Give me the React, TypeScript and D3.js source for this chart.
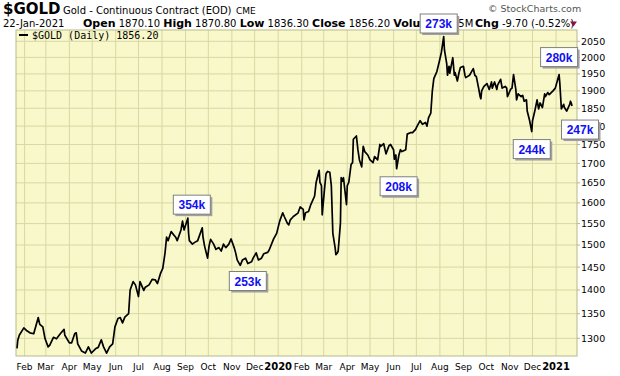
import React from 'react';
import * as d3 from 'd3';

// ---- data ----
const priceDates: string[] = [
  '2019-01-22','2019-01-23','2019-01-25','2019-01-31','2019-02-04','2019-02-08','2019-02-13','2019-02-19','2019-02-21','2019-02-25',
  '2019-02-28','2019-03-04','2019-03-06','2019-03-11','2019-03-15','2019-03-20','2019-03-25','2019-03-26','2019-04-01','2019-04-04',
  '2019-04-08','2019-04-10','2019-04-12','2019-04-17','2019-04-22','2019-04-26','2019-04-30','2019-05-06','2019-05-09','2019-05-13',
  '2019-05-16','2019-05-20','2019-05-24','2019-05-28','2019-05-31','2019-06-04','2019-06-07','2019-06-10','2019-06-13','2019-06-18',
  '2019-06-20','2019-06-24','2019-06-27','2019-07-01','2019-07-03','2019-07-08','2019-07-10','2019-07-15','2019-07-19','2019-07-23',
  '2019-07-26','2019-07-30','2019-08-02','2019-08-05','2019-08-07','2019-08-09','2019-08-13','2019-08-19','2019-08-21','2019-08-26',
  '2019-08-28','2019-08-30','2019-09-04','2019-09-05','2019-09-06','2019-09-10','2019-09-13','2019-09-17','2019-09-23','2019-09-24',
  '2019-09-26','2019-09-30','2019-10-02','2019-10-04','2019-10-08','2019-10-11','2019-10-15','2019-10-18','2019-10-21','2019-10-24',
  '2019-10-28','2019-10-31','2019-11-04','2019-11-06','2019-11-08','2019-11-12','2019-11-15','2019-11-19','2019-11-22','2019-11-27',
  '2019-11-29','2019-12-03','2019-12-06','2019-12-10','2019-12-13','2019-12-18','2019-12-20','2019-12-26','2019-12-30','2020-01-03',
  '2020-01-07','2020-01-09','2020-01-13','2020-01-15','2020-01-17','2020-01-21','2020-01-27','2020-01-30','2020-02-03','2020-02-04',
  '2020-02-06','2020-02-10','2020-02-13','2020-02-18','2020-02-20','2020-02-24','2020-02-25','2020-02-27','2020-02-28','2020-03-02',
  '2020-03-04','2020-03-06','2020-03-09','2020-03-11','2020-03-13','2020-03-16','2020-03-17','2020-03-19','2020-03-20','2020-03-23',
  '2020-03-24','2020-03-26','2020-03-27','2020-03-31','2020-04-01','2020-04-03','2020-04-06','2020-04-08','2020-04-09','2020-04-13',
  '2020-04-15','2020-04-17','2020-04-20','2020-04-22','2020-04-24','2020-04-28','2020-05-01','2020-05-05','2020-05-07','2020-05-11',
  '2020-05-14','2020-05-15','2020-05-19','2020-05-22','2020-05-26','2020-05-28','2020-06-01','2020-06-02','2020-06-04','2020-06-05',
  '2020-06-08','2020-06-10','2020-06-12','2020-06-17','2020-06-19','2020-06-23','2020-06-26','2020-06-30','2020-07-02','2020-07-06',
  '2020-07-09','2020-07-13','2020-07-15','2020-07-17','2020-07-20','2020-07-22','2020-07-24','2020-07-28','2020-07-31','2020-08-03',
  '2020-08-06','2020-08-07','2020-08-10','2020-08-11','2020-08-13','2020-08-14','2020-08-18','2020-08-20','2020-08-21','2020-08-24',
  '2020-08-26','2020-08-28','2020-09-01','2020-09-03','2020-09-04','2020-09-09','2020-09-11','2020-09-14','2020-09-16','2020-09-18',
  '2020-09-21','2020-09-23','2020-09-24','2020-09-25','2020-09-28','2020-10-02','2020-10-05','2020-10-08','2020-10-09','2020-10-12',
  '2020-10-15','2020-10-16','2020-10-20','2020-10-22','2020-10-26','2020-10-28','2020-10-29','2020-11-02','2020-11-04','2020-11-06',
  '2020-11-09','2020-11-10','2020-11-12','2020-11-16','2020-11-18','2020-11-20','2020-11-23','2020-11-24','2020-11-27','2020-11-30',
  '2020-12-01','2020-12-04','2020-12-07','2020-12-09','2020-12-11','2020-12-14','2020-12-17','2020-12-18','2020-12-21','2020-12-23',
  '2020-12-28','2020-12-31','2021-01-05','2021-01-06','2021-01-08','2021-01-11','2021-01-12','2021-01-15','2021-01-19','2021-01-20',
  '2021-01-21','2021-01-22'
];

const priceCloses: number[] = [
  1280,1296,1306,1321,1315,1311,1309,1342,1328,1323,
  1299,1283,1286,1302,1299,1309,1318,1306,1291,1291,
  1309,1311,1289,1275,1271,1283,1271,1280,1282,1297,
  1283,1271,1283,1289,1323,1340,1342,1331,1343,1350,
  1400,1418,1411,1386,1418,1399,1406,1411,1423,1422,
  1414,1436,1447,1482,1518,1510,1531,1518,1510,1535,
  1556,1535,1563,1527,1510,1502,1506,1510,1540,1518,
  1498,1470,1498,1513,1502,1490,1494,1486,1502,1494,
  1502,1514,1494,1482,1466,1454,1466,1470,1458,1462,
  1470,1482,1466,1470,1480,1483,1488,1514,1527,1556,
  1576,1567,1551,1547,1559,1567,1575,1590,1584,1559,
  1576,1579,1596,1617,1651,1682,1651,1643,1571,1634,
  1673,1679,1677,1643,1527,1494,1478,1482,1486,1551,
  1663,1654,1663,1596,1643,1651,1697,1702,1764,1773,
  1736,1709,1691,1745,1731,1722,1709,1702,1718,1709,
  1750,1745,1752,1725,1747,1750,1736,1711,1722,1686,
  1722,1736,1731,1736,1778,1782,1782,1791,1800,1815,
  1805,1810,1800,1823,1836,1899,1936,1957,1985,2016,
  2065,2023,1981,1946,1973,1952,1999,1946,1954,1929,
  1952,1969,1973,1946,1939,1946,1954,1966,1946,1942,
  1908,1883,1877,1900,1913,1921,1904,1926,1908,1926,
  1904,1917,1934,1908,1913,1908,1883,1904,1908,1948,
  1904,1874,1891,1883,1887,1870,1874,1842,1817,1785,
  1815,1842,1874,1848,1865,1852,1891,1883,1895,1889,
  1900,1908,1948,1921,1848,1861,1852,1842,1861,1870,
  1865,1856.2
];

const priceTicks: number[] = [1300,1350,1400,1450,1500,1550,1600,1650,1700,1750,1800,1850,1900,1950,2000,2050];

const volumeLabels: string[] = ['354k','253k','208k','273k','244k','280k','247k'];
const volumeDates: string[] = ['2019-09-04','2019-11-22','2020-06-05','2020-08-06','2020-11-30','2021-01-05','2021-01-22'];
const volumeSides: string[] = ['above','below','below','above','below','above','below'];

const headerStats: [string, string][] = [
  ['Open', '1870.10'],
  ['High', '1870.80'],
  ['Low', '1836.30'],
  ['Close', '1856.20'],
  ['Volume', '0.25M'],
];

// ---- layout / style ----
const W = 620, H = 376;
const PL = 16, PR = 577, PT = 30, PB = 356;
const BG = '#f8f8ca';
const GRID = '#d8d8a4';
const BORDER = '#b9b98a';
const FONT = "'DejaVu Sans', Verdana, sans-serif";
const MONO = "'DejaVu Sans Mono', monospace";
const noteNudge: Record<string, [number, number]> = {
  '354k': [4, 4], '253k': [0, 0], '208k': [2, 0], '273k': [-5, 0], '244k': [0, 0], '280k': [0, 0], '247k': [8, 6],
};

export default function App() {
  const parse = d3.timeParse('%Y-%m-%d');
  const data = priceDates.map((d, i) => ({ date: parse(d) as Date, close: priceCloses[i] }));
  const x = d3.scaleTime().domain([new Date(2019, 0, 22), new Date(2021, 0, 22)]).range([17, 572]);
  const y = d3.scaleLog().domain([1300, 2050]).range([338.3, 41.3]);
  const line = d3.line<{ date: Date; close: number }>().x(d => x(d.date)).y(d => y(d.close));
  const months = d3.timeMonth.range(new Date(2019, 1, 1), new Date(2021, 0, 23));
  const fmtMon = d3.timeFormat('%b');
  const fmtYear = d3.timeFormat('%Y');

  const notes = volumeLabels.map((label, i) => {
    const dt = parse(volumeDates[i]) as Date;
    const near = data.reduce((a, b) => Math.abs(+b.date - +dt) < Math.abs(+a.date - +dt) ? b : a);
    const [dx, dy] = noteNudge[label] || [0, 0];
    const bw = 37, bh = 19, gap = 8;
    const cx = x(dt) + dx;
    const py = y(near.close);
    let top = volumeSides[i] === 'above' ? py - gap - bh + dy : py + gap + dy;
    top = Math.max(14, top);
    return { label, bx: cx - bw / 2, by: top, bw, bh };
  });

  return (
    <svg width={W} height={H} style={{ position: 'absolute', left: 0, top: 0, background: '#fff' }}
      xmlns="http://www.w3.org/2000/svg">
      {/* header */}
      <text x={3} y={14} fontFamily={FONT} fontWeight="bold" fontSize={15} fill="#000">$GOLD</text>
      <text x={63} y={14} fontFamily={FONT} fontSize={10} fill="#000">Gold - Continuous Contract (EOD)</text>
      <text x={236} y={14} fontFamily={FONT} fontSize={9} fill="#000">CME</text>
      <text x={488} y={12} fontFamily={FONT} fontSize={9.5} fill="#555">© StockCharts.com</text>
      <text x={3} y={27} fontFamily={FONT} fontSize={10} fill="#000">22-Jan-2021</text>
      <text x={83} y={27} fontFamily={FONT} fontSize={10} fill="#000">
        {headerStats.map(([k, v]) => (
          <React.Fragment key={k}>
            <tspan fontWeight="bold" fontSize={11}>{k}</tspan>
            <tspan>{' ' + v + ' '}</tspan>
          </React.Fragment>
        ))}
      </text>
      <text x={475} y={27} fontFamily={FONT} fontSize={10} fill="#000">
        <tspan fontWeight="bold" fontSize={11}>Chg</tspan>
        <tspan>{' -9.70 (-0.52%)'}</tspan>
      </text>
      <path d="M570,21.5 L577,21.5 L573.5,26.5 Z" fill="#8b1040" />

      {/* plot area */}
      <rect x={PL} y={PT} width={PR - PL} height={PB - PT} fill={BG} />
      {priceTicks.map(t => (
        <line key={'h' + t} x1={PL} x2={PR} y1={y(t)} y2={y(t)} stroke={GRID} strokeWidth={1} />
      ))}
      {months.map(m => (
        <line key={'v' + +m} x1={x(m)} x2={x(m)} y1={PT} y2={PB} stroke={GRID} strokeWidth={1} />
      ))}
      <rect x={PL} y={PT} width={PR - PL} height={PB - PT} fill="none" stroke={BORDER} strokeWidth={1} />

      {/* legend */}
      <line x1={19} x2={28} y1={35} y2={35} stroke="#000" strokeWidth={2} />
      <text x={32} y={38.5} fontFamily={MONO} fontSize={10} fill="#000">$GOLD (Daily) 1856.20</text>

      {/* price line */}
      <path d={line(data) || ''} fill="none" stroke="#000" strokeWidth={1.7} strokeLinejoin="round" />

      {/* y axis */}
      {priceTicks.map(t => (
        <g key={'yt' + t}>
          <line x1={PR} x2={PR + 3} y1={y(t)} y2={y(t)} stroke={BORDER} />
          <text x={581} y={y(t) + 3.5} fontFamily={FONT} fontSize={9.5} fill="#000">{t}</text>
        </g>
      ))}

      {/* x axis */}
      {months.map(m => {
        const jan = m.getMonth() === 0;
        return (
          <text key={'xl' + +m} x={x(m)} y={370} textAnchor="middle" fontFamily={FONT}
            fontSize={jan ? 10 : 9} fontWeight={jan ? 'bold' : 'normal'} fill="#000">
            {jan ? fmtYear(m) : fmtMon(m)}
          </text>
        );
      })}

      {/* volume notes */}
      {notes.map(n => (
        <g key={n.label}>
          <rect x={n.bx + 2} y={n.by + 2} width={n.bw} height={n.bh} fill="#a0a0a0" />
          <rect x={n.bx} y={n.by} width={n.bw} height={n.bh} fill="#fff" stroke="#808080" strokeWidth={1} />
          <text x={n.bx + n.bw / 2} y={n.by + 14} textAnchor="middle" fontFamily="'Liberation Sans', Arial, sans-serif"
            fontWeight="bold" fontSize={12} fill="#1010f0">{n.label}</text>
        </g>
      ))}
    </svg>
  );
}
